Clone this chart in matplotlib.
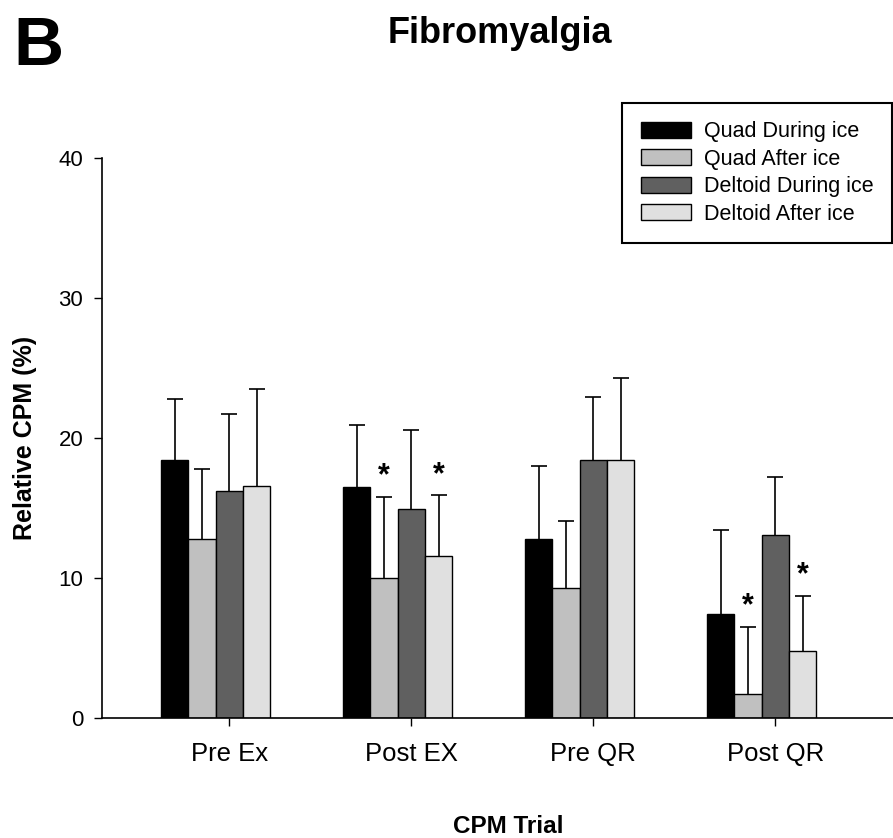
import numpy as np
import matplotlib
matplotlib.use('Agg')
import matplotlib.pyplot as plt

plt.rcParams['font.family'] = ['Liberation Sans', 'DejaVu Sans']

# data
trials = ['Pre Ex', 'Post EX', 'Pre QR', 'Post QR']
series_names = ['Quad During ice', 'Quad After ice', 'Deltoid During ice', 'Deltoid After ice']
series_colors = ['#000000', '#c0c0c0', '#606060', '#e0e0e0']
quad_during = [18.4, 16.5, 12.8, 7.4]
quad_during_err = [4.4, 4.4, 5.2, 6.0]
quad_after = [12.8, 10.0, 9.3, 1.7]
quad_after_err = [5.0, 5.8, 4.8, 4.8]
deltoid_during = [16.2, 14.9, 18.4, 13.1]
deltoid_during_err = [5.5, 5.7, 4.5, 4.1]
deltoid_after = [16.6, 11.6, 18.4, 4.8]
deltoid_after_err = [6.9, 4.3, 5.9, 3.9]
# significance markers: (trial index, series index)
stars = [(1, 1), (1, 3), (3, 1), (3, 3)]

means = [quad_during, quad_after, deltoid_during, deltoid_after]
errs = [quad_during_err, quad_after_err, deltoid_during_err, deltoid_after_err]

W, H = 893, 838
fig = plt.figure(figsize=(W / 100, H / 100), dpi=100)
ax = fig.add_axes([102 / W, 1 - 718 / H, 791 / W, 560 / H])

x = np.arange(len(trials))
width = 0.15
shifts = [-2, -1, 0, 1]  # tick sits under the third bar, as in the original
for k in range(4):
    bars = ax.bar(x + shifts[k] * width, means[k], width, color=series_colors[k],
                  edgecolor='black', linewidth=1.0, label=series_names[k],
                  yerr=[np.zeros(4), errs[k]],
                  error_kw=dict(ecolor='black', elinewidth=1.2, capsize=5.5, capthick=1.2))
    # only the upper cap is shown in the original
    caps = bars.errorbar.lines[1]
    caps[0].set_visible(False)

for g, s in stars:
    top = means[s][g] + errs[s][g]
    ax.text(x[g] + shifts[s] * width, top + 0.9, '*', ha='center', va='baseline',
            fontsize=22, fontweight='bold')

ax.set_xlim(-0.6995, 3.647)
ax.set_ylim(0, 40)
ax.set_yticks([0, 10, 20, 30, 40])
ax.set_xticks(x)
ax.set_xticklabels(trials)
ax.spines['top'].set_visible(False)
ax.spines['right'].set_visible(False)
ax.spines['left'].set_linewidth(1.2)
ax.spines['bottom'].set_linewidth(1.2)
ax.tick_params(axis='y', labelsize=16, length=5.5, width=1.0, pad=8)
ax.tick_params(axis='x', labelsize=18.5, length=6, width=1.0, pad=11)

leg = ax.legend(loc='upper right', bbox_to_anchor=(892 / W, 1 - 103 / H),
                bbox_transform=fig.transFigure, fontsize=15.5, frameon=True,
                fancybox=False, edgecolor='black', framealpha=1,
                handlelength=2.35, handleheight=0.75, handletextpad=0.6,
                labelspacing=0.3, borderpad=0.85, borderaxespad=0)
leg.get_frame().set_linewidth(1.5)

fig.text(25 / W, 1 - 438 / H, 'Relative CPM (%)', rotation=90, ha='center', va='center',
         fontsize=18, fontweight='bold')
fig.text(508 / W, 1 - 833 / H, 'CPM Trial', ha='center', va='baseline',
         fontsize=17.5, fontweight='bold')
fig.text(388 / W, 1 - 43 / H, 'Fibromyalgia', ha='left', va='baseline',
         fontsize=26, fontweight='bold')
fig.text(13 / W, 1 - 65 / H, 'B', ha='left', va='baseline',
         fontsize=50, fontweight='bold')

plt.savefig('out.png', dpi=100)
